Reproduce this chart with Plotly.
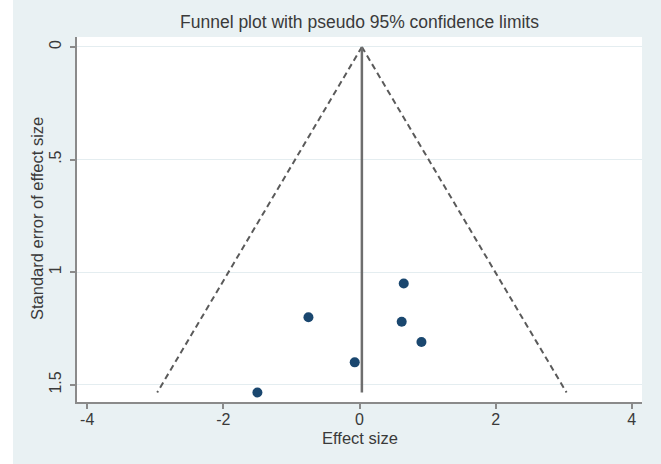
import plotly.graph_objects as go

# Data
effect_size = [0.65, -0.75, 0.62, 0.91, -0.07, -1.50]
std_error = [1.05, 1.20, 1.22, 1.31, 1.40, 1.534]
pooled_effect = 0.035
z95 = 1.96

x_ticks = [-4, -2, 0, 2, 4]
x_tick_text = ["-4", "-2", "0", "2", "4"]
y_ticks = [0, 0.5, 1, 1.5]
y_tick_text = ["0", ".5", "1", "1.5"]

title_text = "Funnel plot with pseudo 95% confidence limits"
x_title = "Effect size"
y_title = "Standard error of effect size"

max_se = max(std_error)
se_line = [0, max_se]
lower = [pooled_effect - z95 * s for s in se_line]
upper = [pooled_effect + z95 * s for s in se_line]

BG = "#e9f1f3"
AXIS = "#8a8a8a"
TEXT = "#3a3a3a"
FONT = "Liberation Sans, Arial, sans-serif"

fig = go.Figure()

# pseudo 95% limits
fig.add_trace(go.Scatter(x=lower, y=se_line, mode="lines",
                         line=dict(color="#5a5a5a", width=2, dash="6px,4px"),
                         hoverinfo="skip", showlegend=False))
fig.add_trace(go.Scatter(x=upper, y=se_line, mode="lines",
                         line=dict(color="#5a5a5a", width=2, dash="6px,4px"),
                         hoverinfo="skip", showlegend=False))
# pooled estimate line
fig.add_trace(go.Scatter(x=[pooled_effect, pooled_effect], y=se_line, mode="lines",
                         line=dict(color="#6e6e6e", width=2.5),
                         hoverinfo="skip", showlegend=False))
# studies
fig.add_trace(go.Scatter(x=effect_size, y=std_error, mode="markers",
                         marker=dict(color="#1a476f", size=10),
                         showlegend=False))

W, H = 661, 464
L, R, T, B = 77, 19, 37, 62
pw = W - L - R
ph = H - T - B

fig.update_layout(
    width=W, height=H,
    margin=dict(l=L, r=R, t=T, b=B),
    paper_bgcolor=BG,
    plot_bgcolor="white",
    font=dict(family=FONT, color=TEXT, size=16),
    title=dict(text=title_text, x=0.5, xref="paper", xanchor="center",
               y=1 - 22 / H, yref="container", yanchor="middle",
               font=dict(size=17.5, color=TEXT, family=FONT)),
    xaxis=dict(range=[-4.15, 4.15], tickvals=x_ticks, ticktext=x_tick_text,
               showgrid=False, zeroline=False,
               showline=True, linecolor=AXIS, linewidth=2,
               ticks="outside", ticklen=5, tickcolor=AXIS, tickwidth=1.5,
               ticklabelstandoff=-3,
               tickfont=dict(size=16, color=TEXT)),
    yaxis=dict(range=[1.576, -0.044], tickvals=y_ticks, ticktext=y_tick_text,
               showgrid=True, gridcolor="#e4edf0", gridwidth=1, zeroline=False,
               showline=True, linecolor=AXIS, linewidth=2,
               ticks="outside", ticklen=5, tickcolor=AXIS, tickwidth=1.5,
               tickangle=-90, ticklabelstandoff=3,
               tickfont=dict(size=16, color=TEXT)),
    shapes=[dict(type="rect", xref="paper", yref="paper",
                 x0=-L / pw, x1=(13 - L) / pw, y0=-B / ph, y1=(H - B) / ph + 0.2,
                 fillcolor="white", line=dict(width=0), layer="below")],
    annotations=[
        dict(text=x_title, xref="paper", yref="paper",
             x=(360 - L) / pw, y=-(438 - (H - B)) / ph,
             xanchor="center", yanchor="middle", showarrow=False,
             font=dict(size=16.5, color=TEXT, family=FONT)),
        dict(text=y_title, xref="paper", yref="paper",
             x=-(L - 37) / pw, y=((H - B) - 219) / ph,
             xanchor="center", yanchor="middle", showarrow=False, textangle=-90,
             font=dict(size=16.5, color=TEXT, family=FONT)),
    ],
)

fig.write_html("out.html", config={"displayModeBar": False},
               post_script="document.body.style.margin='0';document.body.style.overflow='hidden';")
